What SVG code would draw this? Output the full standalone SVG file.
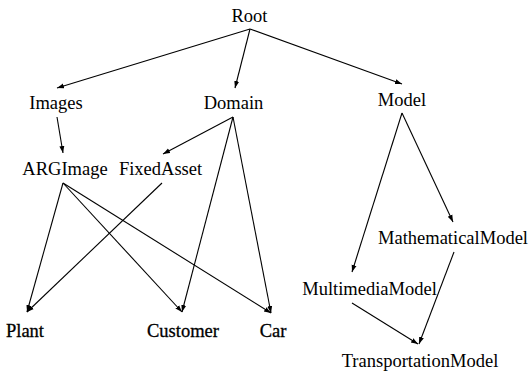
<svg xmlns="http://www.w3.org/2000/svg" width="529" height="372" viewBox="0 0 529 372">
  <style>
    text { font-family: "Liberation Serif", "Times New Roman", serif; font-size: 18.5px; fill: #000; text-anchor: middle; }
    text.heavy { stroke: #000; stroke-width: 0.3; }
    .edge { stroke: #000; stroke-width: 1.1; fill: none; marker-end: url(#head); }
  </style>
  <defs>
    <marker id="head" markerUnits="userSpaceOnUse" markerWidth="10" markerHeight="8" refX="7" refY="3" orient="auto">
      <path d="M0,0.5 L7,3 L0,5.5 Z" fill="#000"/>
    </marker>
  </defs>

  <!-- connectors -->
  <g id="edges">
    <line class="edge" x1="250" y1="29" x2="57" y2="88"/>
    <line class="edge" x1="250" y1="29" x2="235" y2="88"/>
    <line class="edge" x1="250" y1="29" x2="402" y2="84"/>
    <line class="edge" x1="57" y1="117" x2="63" y2="153"/>
    <line class="edge" x1="233" y1="117" x2="163" y2="154"/>
    <line class="edge" x1="233" y1="117" x2="182" y2="312"/>
    <line class="edge" x1="233" y1="117" x2="271" y2="313"/>
    <line class="edge" x1="63" y1="183" x2="27" y2="312"/>
    <line class="edge" x1="63" y1="183" x2="182" y2="312"/>
    <line class="edge" x1="63" y1="183" x2="271" y2="313"/>
    <line class="edge" x1="162" y1="183" x2="27" y2="312"/>
    <line class="edge" x1="402" y1="113" x2="453" y2="222"/>
    <line class="edge" x1="402" y1="113" x2="352" y2="272"/>
    <line class="edge" x1="352" y1="303" x2="418" y2="344"/>
    <line class="edge" x1="454" y1="252" x2="419" y2="344"/>
  </g>

  <!-- nodes -->
  <g id="root"><text x="249.5" y="22">Root</text></g>
  <g id="images"><text x="56" y="109">Images</text></g>
  <g id="domain"><text x="233.5" y="109">Domain</text></g>
  <g id="model"><text x="402" y="106">Model</text></g>
  <g id="argimage"><text x="65" y="175">ARGImage</text></g>
  <g id="fixedasset"><text x="160.5" y="175">FixedAsset</text></g>
  <g id="plant"><text class="heavy" x="25" y="337">Plant</text></g>
  <g id="customer"><text class="heavy" x="183" y="337">Customer</text></g>
  <g id="car"><text class="heavy" x="273" y="337">Car</text></g>
  <g id="mathematicalmodel"><text x="453" y="244">MathematicalModel</text></g>
  <g id="multimediamodel"><text x="369.5" y="295">MultimediaModel</text></g>
  <g id="transportationmodel"><text x="420" y="367">TransportationModel</text></g>
</svg>
